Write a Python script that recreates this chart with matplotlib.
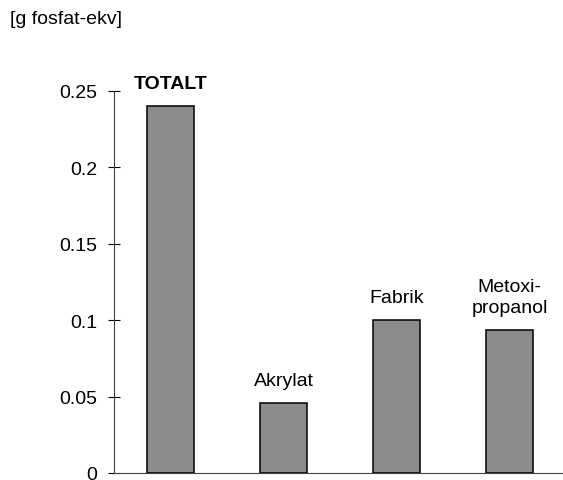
import matplotlib
matplotlib.use("Agg")
import matplotlib.pyplot as plt

categories = ["TOTALT", "Akrylat", "Fabrik", "Metoxi-\npropanol"]
values = [0.2405, 0.0458, 0.1001, 0.0936]
yticks = [0, 0.05, 0.1, 0.15, 0.2, 0.25]
yticklabels = ["0", "0.05", "0.1", "0.15", "0.2", "0.25"]
unit_label = "[g fosfat-ekv]"

plt.rcParams['font.family'] = ['Liberation Sans', 'DejaVu Sans']

fig = plt.figure(figsize=(5.63, 4.81), dpi=100)
W, H = 563, 481
ax = fig.add_axes([114 / W, 7 / H, 452 / W, 382 / H])

x = list(range(len(categories)))
bars = ax.bar(x, values, width=0.41, color="#8c8c8c", edgecolor="black", linewidth=1.1, zorder=3)

ax.set_xlim(-0.5, 3.5)
ax.set_ylim(0, 0.25)
ax.set_yticks(yticks)
ax.set_yticklabels(yticklabels, fontsize=14)
ax.set_xticks([])
ax.tick_params(axis='y', direction='inout', length=8.6, width=0.8, pad=8, colors='black')
for s in ['top', 'right']:
    ax.spines[s].set_visible(False)
ax.spines['left'].set_color('#444444')
ax.spines['bottom'].set_color('#444444')
ax.spines['left'].set_linewidth(0.8)
ax.spines['bottom'].set_linewidth(0.8)

for i, (cat, v) in enumerate(zip(categories, values)):
    weight = 'bold' if i == 0 else 'normal'
    ax.annotate(cat, (i, v), xytext=(0, 10), textcoords='offset points',
                ha='center', va='bottom', fontsize=14, fontweight=weight,
                linespacing=1.3, annotation_clip=False)

fig.text(10 / W, 1 - 11 / H, unit_label, ha='left', va='top', fontsize=14)

fig.savefig("out.png", dpi=100)
